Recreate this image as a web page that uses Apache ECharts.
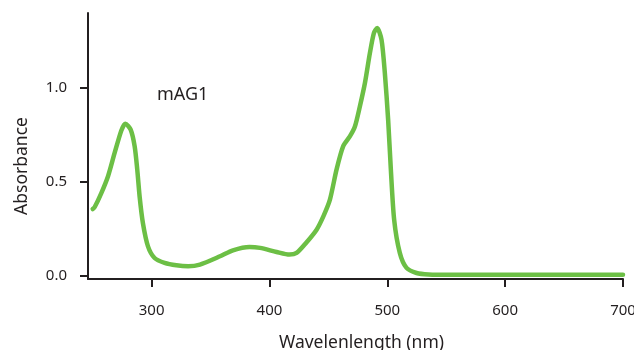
<!DOCTYPE html>
<html>
<head>
<meta charset="utf-8">
<script src="https://cdn.jsdelivr.net/npm/echarts@6/dist/echarts.min.js"></script>
<style>html,body{margin:0;padding:0;background:#fff}#c{width:634px;height:350px}</style>
</head>
<body>
<div id="c"></div>
<script>
const wavelengths = [250, 251.7, 257.3, 263, 268.6, 274.3, 277.7, 282.2, 285.6, 287.8, 289.8, 292.6, 296.9, 302.5, 311, 321, 331, 341, 358, 369, 383, 392, 406, 417, 423, 431, 440, 446, 451.3, 456.9, 462.5, 468.2, 472.5, 476.7, 481, 485.2, 488.6, 491.4, 495.1, 497.9, 500.7, 503, 505.8, 510.6, 516.3, 524.8, 535, 553, 600, 650, 700];
const absorbance = [0.355, 0.366, 0.44, 0.53, 0.654, 0.774, 0.81, 0.778, 0.689, 0.565, 0.422, 0.28, 0.156, 0.094, 0.068, 0.055, 0.05, 0.059, 0.103, 0.135, 0.153, 0.148, 0.126, 0.112, 0.121, 0.174, 0.245, 0.32, 0.405, 0.565, 0.689, 0.742, 0.795, 0.902, 1.027, 1.186, 1.293, 1.32, 1.257, 1.08, 0.831, 0.565, 0.298, 0.121, 0.041, 0.014, 0.006, 0.004, 0.004, 0.004, 0.004];
const xTicks = [300, 400, 500, 600, 700];
const yTicks = [0, 0.5, 1.0];
const seriesLabel = 'mAG1';
const xName = 'Wavelenlength (nm)';
const yName = 'Absorbance';

const ink = '#231f20';
const font = 'Noto Sans';
const chart = echarts.init(document.getElementById('c'), null, {renderer: 'canvas'});
chart.setOption({
  animation: false,
  backgroundColor: '#fff',
  grid: {left: 88, right: 11, top: 13, bottom: 71, containLabel: false, outerBoundsMode: 'none'},
  xAxis: {
    type: 'value', min: 246, max: 700,
    name: xName, nameLocation: 'middle', nameGap: 55,
    nameTextStyle: {color: ink, fontSize: 17.5, fontFamily: font, padding: [0, 0, 0, 12]},
    axisLine: {onZero: false, lineStyle: {color: ink, width: 2}},
    axisTick: {show: true, length: 8, inside: false, customValues: xTicks, lineStyle: {color: ink, width: 2}},
    axisLabel: {customValues: xTicks, color: ink, fontSize: 15, fontFamily: font, margin: 24, formatter: v => String(v)},
    splitLine: {show: false}
  },
  yAxis: {
    type: 'value', min: -0.018, max: 1.4,
    name: yName, nameLocation: 'middle', nameGap: 57, nameRotate: 90,
    nameTextStyle: {color: ink, fontSize: 17.5, fontFamily: font, padding: [0, 40, 0, 0]},
    axisLine: {show: true, onZero: false, lineStyle: {color: ink, width: 2}},
    axisTick: {show: true, length: 8, customValues: yTicks, lineStyle: {color: ink, width: 2}},
    axisLabel: {customValues: yTicks, color: ink, fontSize: 15, fontFamily: font, margin: 21, formatter: v => v.toFixed(1)},
    splitLine: {show: false}
  },
  graphic: [{
    type: 'text', left: 157, top: 86,
    style: {text: seriesLabel, fill: ink, fontSize: 18, fontFamily: font}
  }],
  series: [{
    type: 'line',
    data: wavelengths.map((w, i) => [w, absorbance[i]]),
    showSymbol: false,
    clip: false,
    smooth: 0.25,
    lineStyle: {color: '#6cbf45', width: 4.5, cap: 'round', join: 'round'}
  }]
});
</script>
</body>
</html>
